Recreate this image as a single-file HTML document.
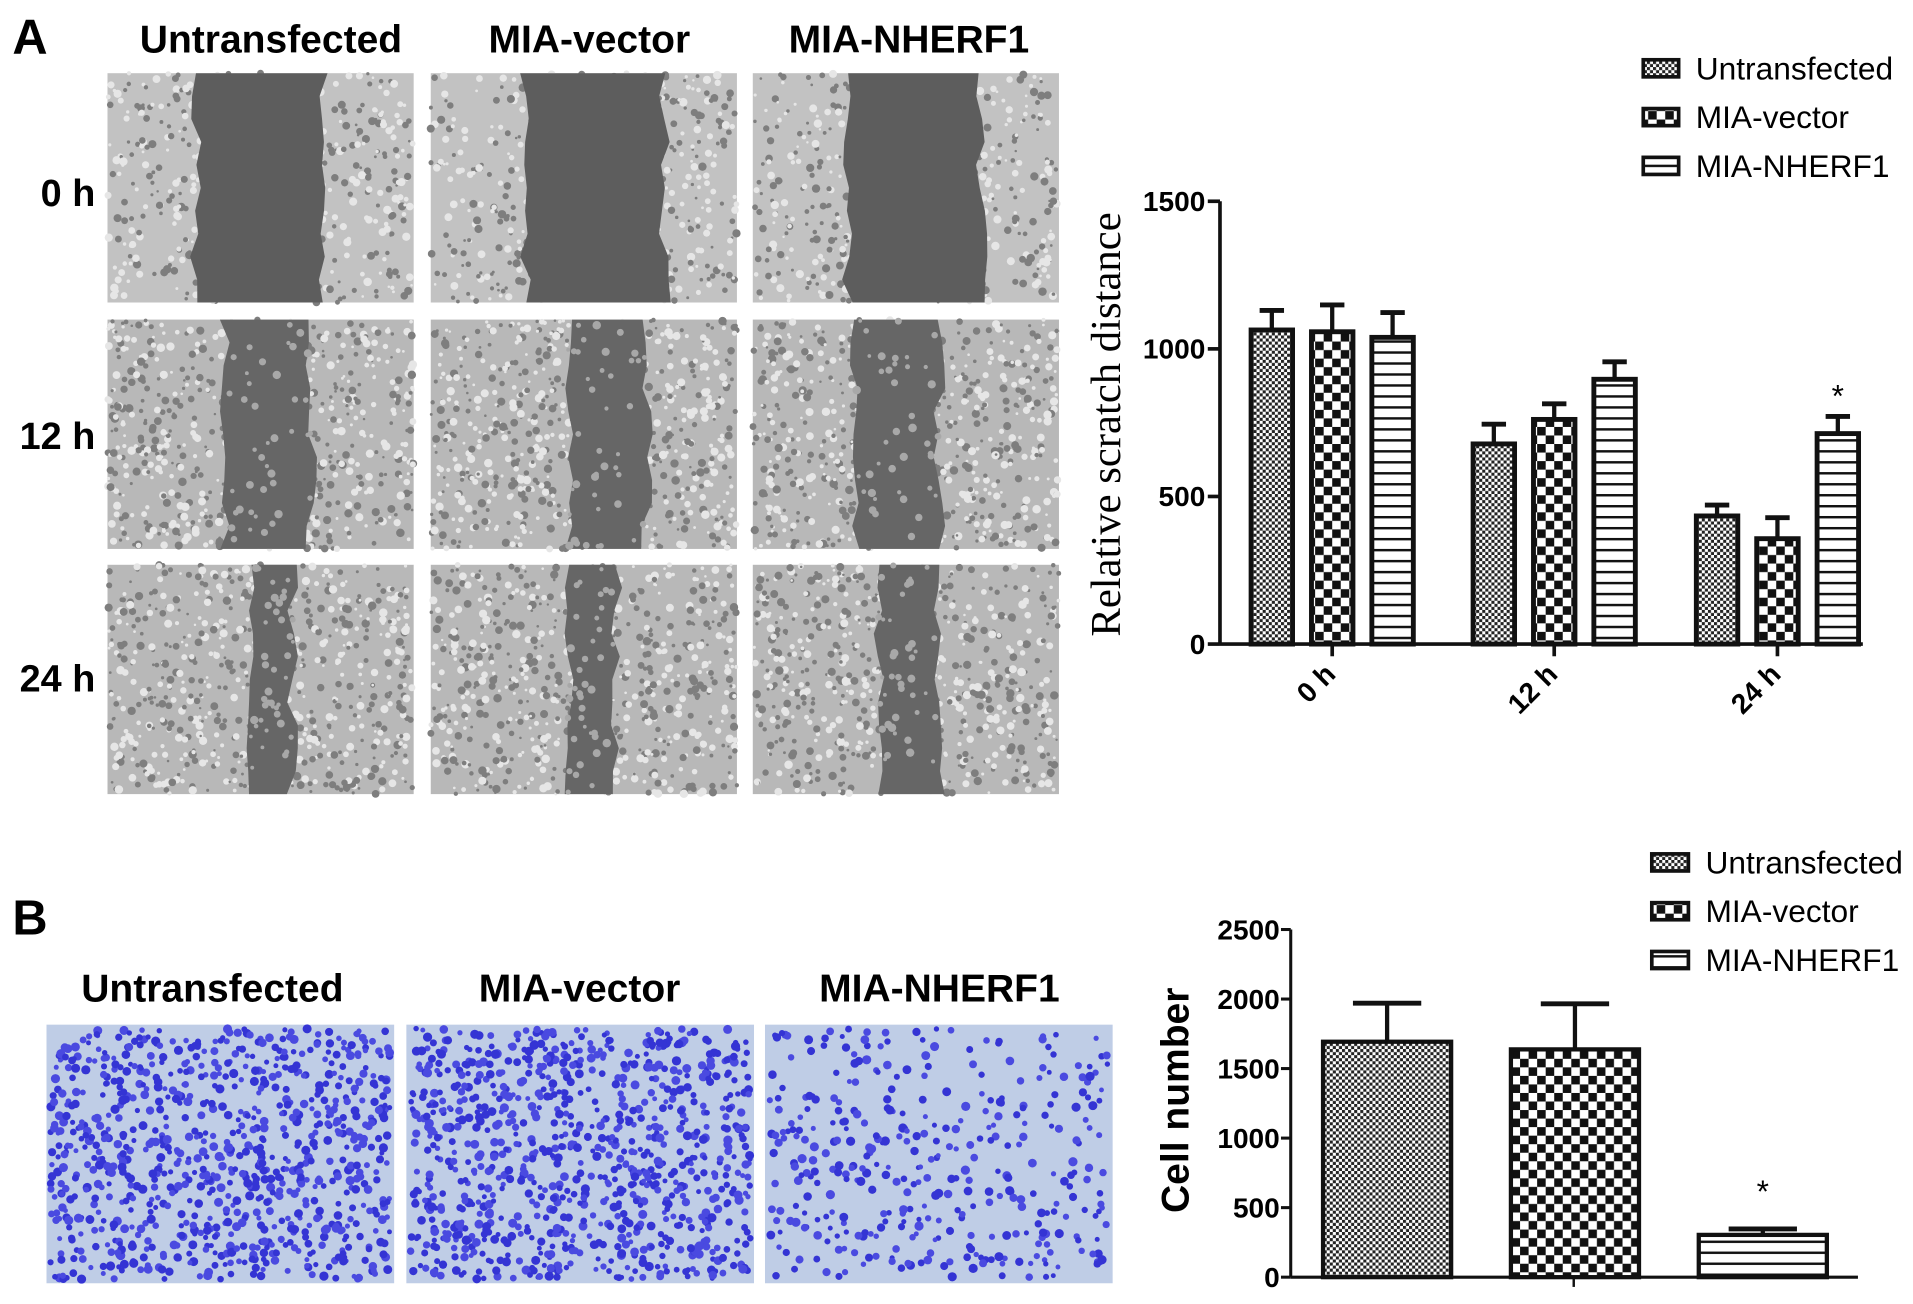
<!DOCTYPE html>
<html><head><meta charset="utf-8"><style>
html,body{margin:0;padding:0;background:#fff;}
svg{display:block;}
text{font-family:"Liberation Sans",Arial,sans-serif;}
</style></head><body>
<svg id="fig" width="1913" height="1304" viewBox="0 0 1568 1069" xmlns="http://www.w3.org/2000/svg">
<defs>
<pattern id="pUn" width="5" height="5" patternUnits="userSpaceOnUse"><rect width="5" height="5" fill="#fff"/><rect width="2.5" height="2.5" fill="#222"/><rect x="2.5" y="2.5" width="2.5" height="2.5" fill="#222"/></pattern>
<pattern id="pVec" width="14" height="14" patternUnits="userSpaceOnUse"><rect width="14" height="14" fill="#fff"/><rect width="7" height="7" fill="#111"/><rect x="7" y="7" width="7" height="7" fill="#111"/></pattern>
<pattern id="pNh" width="10" height="9" patternUnits="userSpaceOnUse"><rect width="10" height="9" fill="#fff"/><rect y="0" width="10" height="2" fill="#111"/></pattern>
</defs>
<g id="photos"></g>
<text x="10" y="44" font-size="40" font-weight="bold">A</text>
<text x="222" y="43" font-size="32" font-weight="bold" text-anchor="middle">Untransfected</text>
<text x="483" y="43" font-size="32" font-weight="bold" text-anchor="middle">MIA-vector</text>
<text x="745" y="43" font-size="32" font-weight="bold" text-anchor="middle">MIA-NHERF1</text>
<text x="78" y="169" font-size="31" font-weight="bold" text-anchor="end">0 h</text>
<text x="78" y="368" font-size="31" font-weight="bold" text-anchor="end">12 h</text>
<text x="78" y="567" font-size="31" font-weight="bold" text-anchor="end">24 h</text>
<text x="10" y="766" font-size="40" font-weight="bold">B</text>
<text x="174" y="821" font-size="32" font-weight="bold" text-anchor="middle">Untransfected</text>
<text x="475" y="821" font-size="32" font-weight="bold" text-anchor="middle">MIA-vector</text>
<text x="770" y="821" font-size="32" font-weight="bold" text-anchor="middle">MIA-NHERF1</text>
<g id="chartA"></g>
<g id="chartB"></g>
</svg>
<script>
// ---- Chart A data ----
const groupsA = ["0 h", "12 h", "24 h"];
const seriesNames = ["Untransfected", "MIA-vector", "MIA-NHERF1"];
const untransA = [1064, 678, 434];
const vectorA = [1058, 761, 357];
const nherfA = [1039, 897, 713];
const untransErrA = [66, 67, 37];
const vectorErrA = [91, 53, 71];
const nherfErrA = [84, 59, 58];
const ticksA = [0, 500, 1000, 1500];
const starA = [false, false, true];
// ---- Chart B data ----
const valuesB = [1693, 1638, 304];
const errB = [277, 328, 43];
const ticksB = [0, 500, 1000, 1500, 2000, 2500];
const starB = [false, false, true];

const NS = "http://www.w3.org/2000/svg";
function mk(tag, attrs, parent, txt){const e=document.createElementNS(NS,tag);for(const k in attrs)e.setAttribute(k,attrs[k]);if(txt!==undefined)e.textContent=txt;parent.appendChild(e);return e;}
const fills = ["url(#pUn)", "url(#pVec)", "url(#pNh)"];

// ---- photos (decorative texture) ----
let seed = 12345;
function rnd(){seed=(seed*16807)%2147483647;return seed/2147483647;}
const photos = document.getElementById('photos');
const colX=[88,353,617], rowY=[60,262,463], pw=251, ph=188;
const stripes=[[[72,177],[77,192],[78,188]],[[97,167],[112,177],[83,153]],[[117,152],[112,152],[103,153]]];
for(let r=0;r<3;r++)for(let c=0;c<3;c++){
  const g=mk('g',{},photos);
  
  
  const x0=colX[c],y0=rowY[r];
  mk('rect',{x:x0,y:y0,width:pw,height:ph,fill:r===0?'#c2c2c2':'#b8b8b8'},g);
  const n=r===0?500:700;
  for(let i=0;i<n;i++){mk('circle',{cx:x0+rnd()*pw,cy:y0+rnd()*ph,r:1+rnd()*2.5,fill:rnd()<0.5?'#7e7e7e':'#e6e6e6'},g);}
  const s=stripes[r][c];
  let pts=[];const steps=10;
  for(let k=0;k<=steps;k++)pts.push((x0+s[0]+(rnd()-0.5)*10)+','+(y0+ph*k/steps));
  for(let k=steps;k>=0;k--)pts.push((x0+s[1]+(rnd()-0.5)*10)+','+(y0+ph*k/steps));
  mk('polygon',{points:pts.join(' '),fill:r===0?'#5d5d5d':'#666'},g);
  if(r>0){for(let i=0;i<40;i++){mk('circle',{cx:x0+s[0]+rnd()*(s[1]-s[0]),cy:y0+rnd()*ph,r:1.5+rnd()*2,fill:'#a8a8a8'},g);}}
}
const bX=[38,333,627], bW=285, bY=840, bH=212, bN=[900,950,380];
for(let c=0;c<3;c++){
  const g=mk('g',{},photos);
  
  
  mk('rect',{x:bX[c],y:bY,width:bW,height:bH,fill:'#bfcde6'},g);
  for(let i=0;i<bN[c];i++){mk('circle',{cx:bX[c]+3+rnd()*(bW-6),cy:bY+3+rnd()*(bH-6),r:2+rnd()*1.8,fill:rnd()<0.5?'#3434d4':'#4a4ae0'},g);}
}

// ---- Chart A ----
(function(){
  const g=document.getElementById('chartA');
  const x0=1000, y0=528, yTop=165, xEnd=1527;
  const yA=v=>y0-(v/1500)*(y0-yTop);
  const groupCenter=[1092,1274,1457];
  const offs=[-49.5,0,49.5], bw=34;
  const xA=(gi,si)=>groupCenter[gi]+offs[si];
  const vals=[untransA,vectorA,nherfA], errs=[untransErrA,vectorErrA,nherfErrA];
  for(let gi=0;gi<groupsA.length;gi++)for(let si=0;si<3;si++){
    const cx=xA(gi,si), v=vals[si][gi], e=errs[si][gi];
    const eb=mk('g',{},g);
    
    
    mk('line',{x1:cx,x2:cx,y1:yA(v),y2:yA(v+e),stroke:'#111','stroke-width':3.5},eb);
    mk('line',{x1:cx-10,x2:cx+10,y1:yA(v+e),y2:yA(v+e),stroke:'#111','stroke-width':4},eb);
    const b=mk('rect',{x:cx-bw/2,y:yA(v),width:bw,height:y0-yA(v),fill:fills[si],stroke:'#111','stroke-width':4},g);
    
    
    if(si===2&&starA[gi]){const st=mk('text',{x:cx,y:yA(v+e)-8,'font-size':26,'text-anchor':'middle'},g,'*');
      
      }
  }
  mk('line',{x1:x0,x2:x0,y1:yTop,y2:y0,stroke:'#111','stroke-width':3},g);
  mk('line',{x1:x0,x2:xEnd,y1:y0,y2:y0,stroke:'#111','stroke-width':3},g);
  ticksA.forEach(t=>{
    mk('line',{x1:x0-10,x2:x0,y1:yA(t),y2:yA(t),stroke:'#111','stroke-width':3},g);
    const tl=mk('text',{x:x0-12,y:yA(t)+8,'font-size':23,'font-weight':'bold','text-anchor':'end'},g,String(t));
    
    
  });
  groupsA.forEach((lab,gi)=>{
    const cx=groupCenter[gi];
    mk('line',{x1:cx,x2:cx,y1:y0,y2:y0+10,stroke:'#111','stroke-width':3},g);
    const tl=mk('text',{x:cx+4,y:y0+26,'font-size':23,'font-weight':'bold','text-anchor':'end',transform:'rotate(-45 '+(cx+4)+' '+(y0+26)+')'},g,lab);
    
    
  });
  const yt=mk('text',{x:0,y:0,'font-size':35,'text-anchor':'middle',transform:'translate(918 348) rotate(-90)',style:'font-family:"Liberation Serif",serif'},g,'Relative scratch distance');
  
  
  seriesNames.forEach((n,i)=>{
    const le=mk('g',{},g);
    
    
    const cy=56+i*40;
    mk('rect',{x:1347,y:cy-7,width:29,height:14,fill:fills[i],stroke:'#111','stroke-width':3},le);
    mk('text',{x:1390,y:cy+9,'font-size':26},le,n);
  });
})();

// ---- Chart B ----
(function(){
  const g=document.getElementById('chartB');
  const x0=1058, y0=1047, yTop=762, xEnd=1523;
  const yB=v=>y0-(v/2500)*(y0-yTop);
  const centers=[1137,1291,1445], bw=105;
  valuesB.forEach((v,i)=>{
    const cx=centers[i], e=errB[i];
    const eb=mk('g',{},g);
    
    
    mk('line',{x1:cx,x2:cx,y1:yB(v),y2:yB(v+e),stroke:'#111','stroke-width':3.5},eb);
    mk('line',{x1:cx-28,x2:cx+28,y1:yB(v+e),y2:yB(v+e),stroke:'#111','stroke-width':4},eb);
    const b=mk('rect',{x:cx-bw/2,y:yB(v),width:bw,height:y0-yB(v),fill:fills[i],stroke:'#111','stroke-width':3.5},g);
    
    
    if(starB[i]){const st=mk('text',{x:cx,y:yB(v+e)-22,'font-size':26,'text-anchor':'middle'},g,'*');
      
      }
  });
  mk('line',{x1:x0,x2:x0,y1:yTop,y2:y0,stroke:'#111','stroke-width':2.5},g);
  mk('line',{x1:x0,x2:xEnd,y1:y0,y2:y0,stroke:'#111','stroke-width':2.5},g);
  mk('line',{x1:1290,x2:1290,y1:y0,y2:y0+8,stroke:'#111','stroke-width':2},g);
  ticksB.forEach(t=>{
    mk('line',{x1:x0-8,x2:x0,y1:yB(t),y2:yB(t),stroke:'#111','stroke-width':2.5},g);
    const tl=mk('text',{x:x0-9,y:yB(t)+8,'font-size':23,'font-weight':'bold','text-anchor':'end'},g,String(t));
    
    
  });
  const yt=mk('text',{x:0,y:0,'font-size':32,'font-weight':'bold','text-anchor':'middle',transform:'translate(974 902) rotate(-90)'},g,'Cell number');
  
  
  seriesNames.forEach((n,i)=>{
    const le=mk('g',{},g);
    
    
    const cy=707+i*40;
    mk('rect',{x:1354,y:cy-7,width:30,height:14,fill:fills[i],stroke:'#111','stroke-width':3},le);
    mk('text',{x:1398,y:cy+9,'font-size':26},le,n);
  });
})();
</script>
</body></html>
